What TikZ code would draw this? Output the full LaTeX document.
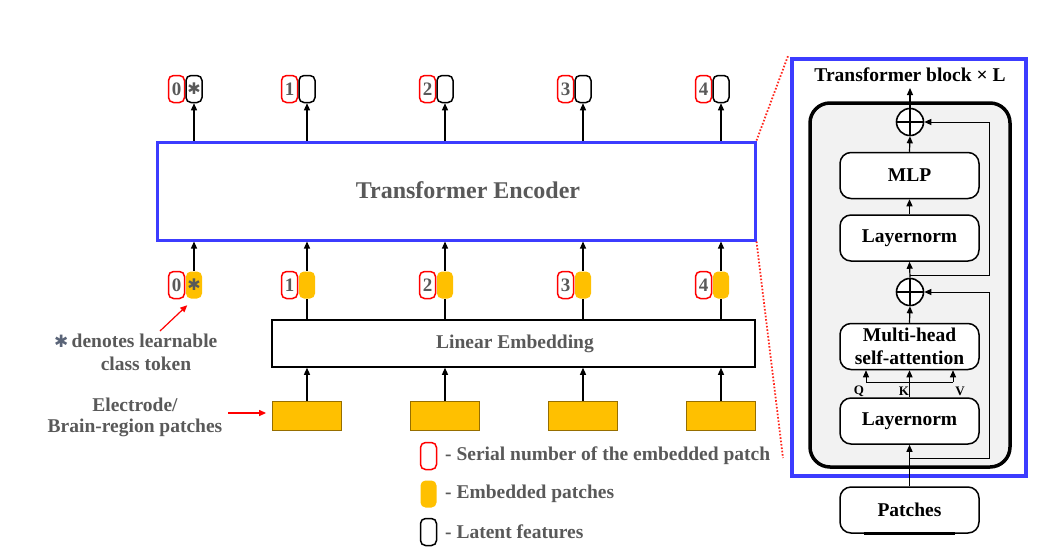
\documentclass[tikz,border=0pt]{standalone}
\usepackage{fontspec}
\setmainfont{Liberation Serif}
\newfontfamily\symfont{DejaVu Sans}
\usetikzlibrary{arrows.meta,calc}
\definecolor{tblue}{RGB}{60,60,255}
\definecolor{tyellow}{RGB}{255,192,0}
\definecolor{tgray}{RGB}{89,89,89}
\definecolor{panelgray}{RGB}{242,242,242}
\definecolor{dotred}{RGB}{255,40,30}
\definecolor{astblue}{RGB}{90,100,120}
\definecolor{patchedge}{RGB}{150,110,0}
\begin{document}
\begin{tikzpicture}[x=1pt,y=-1pt,
  txt/.style={font=\fontsize{19.5}{21}\selectfont\bfseries, text=tgray, inner sep=0pt},
  btxt/.style={font=\fontsize{19.5}{21}\selectfont\bfseries, text=black, inner sep=0pt},
  smallbox/.style={rounded corners=5pt, minimum width=16pt, minimum height=27pt, inner sep=0pt, line width=1.5pt, font=\fontsize{19}{19}\selectfont\bfseries, text=tgray},
  numbox/.style={smallbox, draw=red},
  latbox/.style={smallbox, draw=black},
  embbox/.style={smallbox, fill=tyellow},
  patchbox/.style={draw=patchedge, line width=0.8pt, fill=tyellow, minimum width=69pt, minimum height=29pt, inner sep=0pt},
  arr/.style={-{Triangle[length=7pt,width=6pt]}, line width=1.2pt},
  redarr/.style={-{Triangle[length=7pt,width=6pt]}, line width=1.2pt, draw=red},
  rbox/.style={draw=black, line width=1.5pt, fill=white, rounded corners=11pt, minimum width=139pt, minimum height=46pt, inner sep=0pt, font=\fontsize{19.5}{23}\selectfont\bfseries, align=center},
  plusc/.style={circle, draw=black, line width=1.6pt, fill=white, minimum size=27pt, inner sep=0pt},
  dotline/.style={draw=dotred, line width=1.8pt, dash pattern=on 1.6pt off 1.8pt}
]
\useasboundingbox (0,0) rectangle (1052,555);

% ---------- Transformer Encoder ----------
\node[draw=tblue, line width=3pt, minimum width=598pt, minimum height=98pt, inner sep=0pt] (enc) at (456,191) {};
\node[txt, font=\fontsize{24}{24}\selectfont\bfseries] (enctxt) at (468,190) {Transformer Encoder};

% ---------- Linear Embedding ----------
\node[draw=black, line width=1.5pt, minimum width=483pt, minimum height=47pt, inner sep=0pt] (lin) at (513.5,343.5) {};
\node[txt] (lintxt) at (515,344) {Linear Embedding};

% ---------- tokens ----------
\foreach \i/\x in {0/194,1/307,2/445,3/583,4/721}{
  \node[numbox] (tn\i) at (\x-17.5,89) {\i};
  \node[latbox] (tl\i) at (\x,89) {};
  \node[numbox] (bn\i) at (\x-17.5,285) {\i};
  \node[embbox] (be\i) at (\x,285) {};
  \draw[arr] (tl\i.south |- enc.north) -- (tl\i.south);
  \draw[arr] (be\i.north) -- (be\i.north |- enc.south);
}
\node[smallbox, text=tgray, font=\symfont\fontsize{16}{16}\selectfont] at (tl0) {✱};
\node[smallbox, text=tgray, font=\symfont\fontsize{16}{16}\selectfont] at (be0) {✱};

% ---------- patches ----------
\foreach \i/\x in {1/307,2/445,3/583,4/721}{
  \node[patchbox] (p\i) at (\x,415.5) {};
  \draw[arr] (p\i.north) -- (p\i.north |- lin.south);
  \draw[line width=1.2pt] (be\i.south |- lin.north) -- (be\i.south);
}

% ---------- left annotations ----------
\node[txt, anchor=west] (ast) at (54,341) {{\symfont\fontsize{17}{17}\selectfont\color{astblue}✱}\,denotes learnable};
\node[txt] (clstok) at (146,364) {class token};
\coordinate (astarr) at (160,331);
\draw[redarr] (astarr) -- ($(be0.south west)+(2,6)$);

\node[txt, align=center] (elec) at (135,417) {Electrode/\\Brain-region patches};
\coordinate (elarr) at (228,413);
\draw[redarr] (elarr) -- ($(p1.west)+(-6,-2.5)$);

% ---------- legend ----------
\node[numbox] (lg1) at (428.5,456) {};
\node[embbox] (lg2) at (428.5,494) {};
\node[latbox] (lg3) at (428.5,532) {};
\node[txt, anchor=west] at (445,456) {- Serial number of the embedded patch};
\node[txt, anchor=west] at (445,494) {- Embedded patches};
\node[txt, anchor=west] at (445,532) {- Latent features};

% ---------- right panel ----------
\node[draw=tblue, line width=4pt, minimum width=234pt, minimum height=417pt, inner sep=0pt] (panel) at (909,267.5) {};
\node[btxt] (title) at (910,75) {Transformer block × L};
\node[draw=black, line width=3.5pt, fill=panelgray, rounded corners=20pt, minimum width=200pt, minimum height=364pt, inner sep=0pt] (blk) at (910,285) {};

\node[plusc] (plus1) at (910,122) {};
\draw[line width=2.4pt] (plus1.north) -- (plus1.south) (plus1.west) -- (plus1.east);
\node[rbox] (mlp) at (909.5,175.5) {MLP};
\node[rbox] (ln1) at (909.5,238) {Layernorm};
\node[plusc] (plus2) at (910,292) {};
\draw[line width=2.4pt] (plus2.north) -- (plus2.south) (plus2.west) -- (plus2.east);
\node[rbox] (mhsa) at (909.5,346.5) {Multi-head\\self-attention};
\node[rbox] (ln2) at (909.5,421) {Layernorm};
\node[rbox] (patches) at (909.5,510) {Patches};
\draw[line width=3pt] (864,533) -- (955,533);

\coordinate (out) at (910,88);
\draw[arr] (plus1.north) -- (out);
\draw[arr] (mlp.north) -- (plus1.south);
\draw[arr] (ln1.north) -- (mlp.south);
\draw[arr] (plus2.north) -- (ln1.south);
\draw[arr] (mhsa.north) -- (plus2.south);
\draw[arr] (patches.north) -- (ln2.south);
\draw[arr] (ln2.north) -- (mhsa.south);

\coordinate (qL) at (866,382);
\coordinate (qR) at (953,382);
\draw[line width=1pt] (qL) -- (qR);
\draw[arr, line width=1pt] (qL) -- (qL |- mhsa.south);
\draw[arr, line width=1pt] (qR) -- (qR |- mhsa.south);
\node[btxt, font=\fontsize{13}{13}\selectfont\bfseries] at (859,391) {Q};
\node[btxt, font=\fontsize{13}{13}\selectfont\bfseries] at (904,391) {K};
\node[btxt, font=\fontsize{13}{13}\selectfont\bfseries] at (960,391) {V};

\coordinate (r1) at (910,275);
\coordinate (r2) at (910,458);
\draw[arr, line width=1pt] (r1) -- (989,275) |- (plus1.east);
\draw[arr, line width=1pt] (r2) -- (989,458) |- (plus2.east);

% ---------- zoom lines ----------
\draw[dotline] (enc.north east) -- (788,56);
\draw[dotline] (enc.south east) -- (783,458);
\end{tikzpicture}
\end{document}
